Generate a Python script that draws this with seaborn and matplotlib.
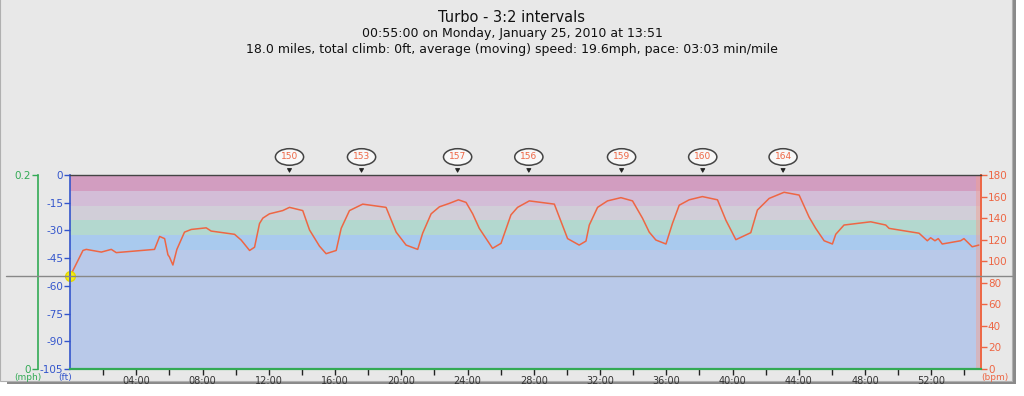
import matplotlib
matplotlib.use("Agg")
import matplotlib.pyplot as plt
from matplotlib.lines import Line2D
from matplotlib.patches import Rectangle
import seaborn as sns
import pandas as pd

# Heart rate trace (minutes, bpm)
minutes = [0.0, 0.78, 0.98, 1.89, 2.49, 2.79, 5.10, 5.41, 5.71, 5.91, 6.0, 6.21, 6.45,
           6.91, 7.32, 8.22, 8.52, 9.93, 10.33, 10.84, 11.14, 11.44, 11.64, 12.04, 12.84,
           13.25, 14.05, 14.46, 15.06, 15.46, 16.07, 16.37, 16.87, 17.67, 19.08, 19.69,
           20.29, 20.99, 21.29, 21.80, 22.30, 22.90, 23.45, 23.91, 24.31, 24.71, 25.51,
           26.02, 26.62, 27.02, 27.73, 29.24, 30.04, 30.74, 31.15, 31.35, 31.85, 32.45,
           33.26, 33.96, 34.56, 34.97, 35.37, 35.98, 36.37, 36.78, 37.38, 38.18, 39.09,
           39.60, 40.20, 41.10, 41.50, 42.21, 43.11, 44.02, 44.62, 45.02, 45.53, 46.03,
           46.23, 46.73, 48.34, 49.25, 49.45, 51.26, 51.76, 51.96, 52.22, 52.42, 52.66,
           53.77, 53.97, 54.47, 54.87]
heart_rate = [86, 110, 111, 108.5, 111, 108, 111, 123, 121, 106, 104, 96.5, 111,
              127, 129.5, 131, 128, 125, 119.7, 110, 113, 135, 140, 144, 147,
              150, 147, 129, 114, 107, 110, 130.5, 147, 153, 150, 127,
              115, 111, 126, 144, 150.5, 153.7, 157, 154.6, 144, 130.5, 112,
              116.6, 143, 150, 156, 153, 121, 115, 118.7, 133.6, 150, 156,
              159, 156, 140, 127, 119.7, 116, 135, 152, 157, 160, 157,
              138, 120, 126.5, 147.5, 158.3, 164, 161.4, 141, 130.5, 119, 116,
              125, 133.6, 136.6, 133.6, 130.5, 126, 119, 121.8, 119, 121, 116,
              119, 121, 113.4, 115]

# Interval peak callouts
peak_minutes = [13.25, 17.6, 23.4, 27.7, 33.3, 38.2, 43.05]
peak_labels = ["150", "153", "157", "156", "159", "160", "164"]

# Heart-rate zones (bpm)
zone_edges = [0, 110, 124, 138, 151, 165, 180]
zone_colors = ["#b9c9e9", "#a9caee", "#b3d8cf", "#d1ced8", "#d3bdd7", "#d29dc0"]

ft_ticks = [0, -15, -30, -45, -60, -75, -90, -105]
bpm_ticks = [0, 20, 40, 60, 80, 100, 120, 140, 160, 180]
time_ticks = list(range(4, 55, 4))
time_labels = [f"{m:02d}:00" for m in time_ticks]

title_lines = ["Turbo - 3:2 intervals",
               "00:55:00 on Monday, January 25, 2010 at 13:51",
               "18.0 miles, total climb: 0ft, average (moving) speed: 19.6mph, pace: 03:03 min/mile"]

blue = "#3355cc"
green = "#33aa55"
red = "#ee6644"

sns.set_theme(style="white")
plt.rcParams["font.family"] = ["DejaVu Sans"]

fig = plt.figure(figsize=(10.24, 3.96), dpi=100, facecolor="white")
# panel with drop shadow
fig.add_artist(Rectangle((0.007, 0.030), 0.985, 0.975, transform=fig.transFigure,
                         facecolor="#8a8a8a", edgecolor="none", zorder=-3))
fig.add_artist(Rectangle((0.0, 0.038), 0.988, 0.97, transform=fig.transFigure,
                         facecolor="#e8e8e8", edgecolor="#b0b0b0", lw=0.8, zorder=-2))

ax = fig.add_axes([0.0684, 0.0682, 0.8896, 0.4898])
ax.set_facecolor("none")
ax.set_xlim(0, 55)
ax.set_ylim(-105, 0)
ax.set_yticks(ft_ticks)
ax.set_yticklabels([str(v) for v in ft_ticks])
ax.tick_params(axis="y", colors=blue, labelsize=7.5, length=4, width=1, direction="out", pad=1)
ax.set_xticks(time_ticks)
ax.set_xticklabels(time_labels)
ax.set_xticks(range(2, 55, 4), minor=True)
ax.tick_params(axis="x", which="both", colors="#222222", labelcolor="#333333",
               labelsize=7, length=4, width=1, direction="out", pad=1, bottom=True)
ax.spines["left"].set_color(blue)
ax.spines["left"].set_linewidth(1.2)
ax.spines["bottom"].set_color(green)
ax.spines["bottom"].set_linewidth(1.6)
ax.spines["top"].set_color("#444444")
ax.spines["top"].set_linewidth(1.0)
ax.spines["right"].set_visible(False)

# heart rate axis (right)
ax_hr = ax.twinx()
ax_hr.set_zorder(ax.get_zorder() - 1)
ax.patch.set_visible(False)
ax_hr.set_ylim(0, 180)
ax_hr.set_xlim(0, 55)
for lo, hi, c in zip(zone_edges[:-1], zone_edges[1:], zone_colors):
    ax_hr.axhspan(lo, hi, color=c, lw=0, zorder=0)
ax_hr.axvspan(54.7, 55, color="#f4a090", alpha=0.45, lw=0, zorder=1)
df = pd.DataFrame({"minute": minutes, "bpm": heart_rate})
sns.lineplot(data=df, x="minute", y="bpm", ax=ax_hr, color=red, lw=1.1,
             estimator=None, sort=False, zorder=3)
ax_hr.set_xlabel("")
ax_hr.set_ylabel("")
ax_hr.set_yticks(bpm_ticks)
ax_hr.tick_params(axis="y", colors=red, labelsize=7.5, length=4, width=1, direction="out", pad=1)
ax_hr.spines["right"].set_color(red)
ax_hr.spines["right"].set_linewidth(1.4)
for s in ["left", "top", "bottom"]:
    ax_hr.spines[s].set_visible(False)

# speed axis (outer left, green)
ax_mph = ax.twinx()
ax_mph.set_ylim(0, 0.2)
ax_mph.spines["left"].set_visible(True)
ax_mph.spines["left"].set_position(("outward", 23))
ax_mph.spines["left"].set_color(green)
ax_mph.spines["left"].set_linewidth(1.2)
for s in ["right", "top", "bottom"]:
    ax_mph.spines[s].set_visible(False)
ax_mph.yaxis.set_ticks_position("left")
ax_mph.yaxis.set_label_position("left")
ax_mph.set_yticks([0, 0.2])
ax_mph.set_yticklabels(["0", "0.2"])
ax_mph.tick_params(axis="y", colors=green, labelsize=7.5, length=4, width=1, pad=1)
ax_mph.patch.set_visible(False)

# unit labels
fig.text(0.027, 0.058, "(mph)", color=green, fontsize=6.5, ha="center", va="top")
fig.text(0.064, 0.058, "(ft)", color=blue, fontsize=6.5, ha="center", va="top")
fig.text(0.972, 0.058, "(bpm)", color=red, fontsize=6.5, ha="center", va="top")

# peak callouts
for m, lab in zip(peak_minutes, peak_labels):
    ax_hr.annotate(lab, xy=(m, 180), xytext=(0, 13), textcoords="offset points",
                   ha="center", va="center", fontsize=6.5, color=red,
                   bbox=dict(boxstyle="ellipse,pad=0.15", fc="#f8f8f8",
                             ec="#444444", lw=1.1),
                   arrowprops=dict(arrowstyle="wedge,tail_width=0.45,shrink_factor=0.5",
                                   fc="#222222", ec="#222222", lw=0.6),
                   annotation_clip=False, zorder=6)

# cursor line and start marker
fig.add_artist(Line2D([0.006, 0.988], [1 - 276 / 396, 1 - 276 / 396],
                      transform=fig.transFigure, color="#888888", lw=1.0, zorder=5))
ax_hr.plot([minutes[0]], [heart_rate[0]], "o", color="#f5ee10", ms=7, mec="#e6d800",
           clip_on=False, zorder=7)

# title block
fig.text(0.5, 0.957, title_lines[0], ha="center", va="center", fontsize=10.5, color="#111111")
fig.text(0.5, 0.915, title_lines[1], ha="center", va="center", fontsize=9, color="#111111")
fig.text(0.5, 0.875, title_lines[2], ha="center", va="center", fontsize=9, color="#111111")

fig.savefig("out.png", dpi=100, facecolor="white")
